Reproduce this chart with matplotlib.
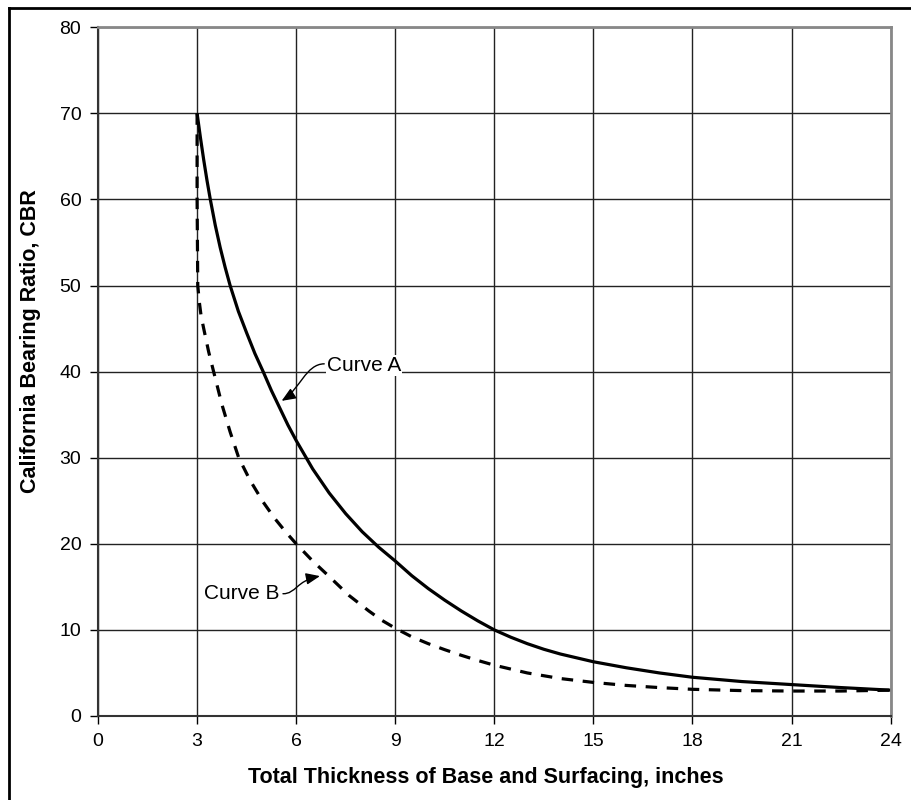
import numpy as np
import matplotlib
matplotlib.use('Agg')
import matplotlib.pyplot as plt
from matplotlib.lines import Line2D
from matplotlib.patches import FancyArrowPatch
from matplotlib.path import Path

plt.rcParams['font.family'] = ['Liberation Sans', 'DejaVu Sans']

# curve A (solid)
xa = [3.0, 3.1, 3.2, 3.3, 3.4, 3.55, 3.7, 3.85, 4.0, 4.25, 4.5, 4.75, 5.0, 5.25, 5.5, 5.75, 6.0,
      6.5, 7.0, 7.5, 8.0, 8.5, 9.0, 9.5, 10, 10.5, 11, 11.5, 12, 12.5, 13, 13.5, 14, 15, 16, 17, 18, 19.5, 21, 22.5, 24]
ya = [70, 67.2, 64.6, 62.2, 60, 57.0, 54.4, 52.1, 50, 47.0, 44.5, 42.1, 40, 37.8, 35.8, 33.8, 32,
      28.7, 25.9, 23.5, 21.4, 19.6, 18.0, 16.3, 14.8, 13.45, 12.2, 11.05, 10.0, 9.15, 8.4, 7.75, 7.2, 6.3, 5.6, 5.0, 4.5, 4.0, 3.65, 3.3, 3.0]
# curve B (dashed)
xb = [3.0, 3.0, 3.01, 3.02, 3.07, 3.12, 3.2, 3.35, 3.5, 3.75, 4.0, 4.26, 4.6, 5.0, 5.35, 5.7, 6.0,
      6.5, 7.0, 7.6, 8.2, 8.6, 9.0, 9.5, 10, 10.5, 11, 11.5, 12, 13, 14, 15, 16, 17, 18, 19.5, 21, 22.5, 24]
yb = [70, 60, 55, 50, 48, 46.5, 45, 42.3, 40, 36.2, 33, 30, 27.4, 24.85, 22.95, 21.3, 20.0,
      18.0, 16.2, 14.0, 12.2, 11.1, 10.2, 9.2, 8.4, 7.7, 7.05, 6.45, 5.9, 5.0, 4.35, 3.9, 3.55, 3.3, 3.1, 2.95, 2.9, 2.9, 3.0]

xticks = list(range(0, 25, 3))
yticks = list(range(0, 81, 10))

fig = plt.figure(figsize=(9.11, 8), dpi=100)
ax = fig.add_axes([0.1076, 0.105, 0.87, 0.861])

ax.plot(xa, ya, color='black', linewidth=2.3, solid_capstyle='butt', solid_joinstyle='round')
ax.plot(xb, yb, color='black', linewidth=2.3, linestyle=(0, (3.6, 3.0)))

ax.set_xlim(0, 24)
ax.set_ylim(0, 80)
ax.set_xticks(xticks)
ax.set_yticks(yticks)
ax.tick_params(direction='out', length=6, width=1, labelsize=14, pad=6, color='black')
ax.grid(True, color='#222', linewidth=1)
ax.set_axisbelow(True)
for s in ['top', 'right']:
    ax.spines[s].set_color('#888')
    ax.spines[s].set_linewidth(2)
for s in ['left', 'bottom']:
    ax.spines[s].set_color('#333')
    ax.spines[s].set_linewidth(1.5)

ax.set_xlabel('Total Thickness of Base and Surfacing, inches', fontsize=15.5, fontweight='bold')
ax.set_ylabel('California Bearing Ratio, CBR', fontsize=15.5, fontweight='bold')
ax.xaxis.set_label_coords(0.489, -0.074)
ax.yaxis.set_label_coords(-0.072, 0.544)

# curve labels with wavy leader arrows
ax.text(6.92, 40.7, 'Curve A', fontsize=15, ha='left', va='center',
        bbox=dict(boxstyle='square,pad=0.05', fc='white', ec='none'))
ax.text(5.5, 14.2, 'Curve B', fontsize=15, ha='right', va='center')

arrow_a = Path([(6.85, 40.9), (6.3, 40.9), (6.1, 37.9), (5.56, 36.6)],
               [Path.MOVETO, Path.CURVE4, Path.CURVE4, Path.CURVE4])
arrow_b = Path([(5.6, 14.2), (6.0, 14.2), (6.0, 15.7), (6.72, 16.25)],
               [Path.MOVETO, Path.CURVE4, Path.CURVE4, Path.CURVE4])
for p in [arrow_a, arrow_b]:
    ax.add_patch(FancyArrowPatch(path=p, arrowstyle='-|>,head_length=0.6,head_width=0.25',
                                 mutation_scale=14, color='black', lw=1))

# page frame (only left and top visible)
fig.add_artist(Line2D([8.5 / 911, 8.5 / 911], [0, 1 - 7.5 / 800], transform=fig.transFigure, color='black', lw=2))
fig.add_artist(Line2D([8.5 / 911, 1], [1 - 7.5 / 800, 1 - 7.5 / 800], transform=fig.transFigure, color='black', lw=2))

fig.savefig('out.png', dpi=100)
